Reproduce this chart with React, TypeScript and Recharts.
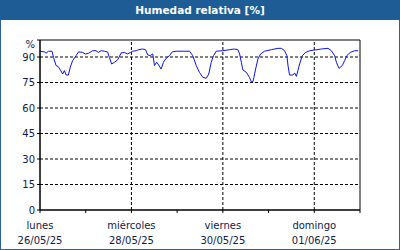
import React from 'react';
import { LineChart, Line, XAxis, YAxis, ReferenceLine, ReferenceArea } from 'recharts';

// hours since lunes 26/05/25 00:00, humidity in %
const hours = [
  0, 2.3, 3.2, 4.5, 6.3, 7.1, 8.4, 9.6, 10.7, 11.9, 12.8, 13.7, 14.9, 15.9, 17.1, 18.9, 20.3, 22.4, 23.8,
  25.5, 27.6, 29.4, 30.6, 32.1, 33.8, 35.5, 36.4, 37.6, 39.1, 40.8, 42.6, 44.3, 46.0, 47.5,
  48.7, 50.5, 51.8, 53.9, 55.4, 56.6, 57.8, 59.2, 60.1, 61.3, 62.3, 63.6, 64.8, 66.2, 68.0, 69.4, 71.5,
  78.5, 80.2, 82.0, 83.7, 85.5, 87.3, 88.6, 89.9, 91.1, 92.5, 96.0, 99.5, 102.1, 103.9, 104.8, 105.7,
  106.5, 108.3, 110.0, 110.9, 111.8, 112.3, 113.2, 114.4, 115.8, 117.9, 121.4, 124.9, 126.7, 128.4,
  129.6, 130.2, 131.0, 132.8, 133.7, 134.6, 135.4, 136.3, 137.7, 139.5, 141.6, 144.2, 147.7, 151.2,
  153.0, 154.7, 155.6, 157.0, 158.7, 159.9, 161.1, 162.9, 165.2, 167.0,
];
const humidity = [
  93.4, 93, 92.3, 93.4, 93.4, 89.8, 85, 84.3, 82.4, 80, 82, 79.4, 79.4, 84, 87.8, 90.8, 93, 92.7, 91.8,
  92.2, 93.7, 93.7, 92.7, 93.7, 93.4, 93, 89.8, 85.9, 86.9, 88.4, 92.4, 92.7, 91.8, 92.7,
  93.4, 93.7, 94.3, 94.7, 94.3, 91.2, 90.8, 91.8, 85, 86.9, 85.3, 82.9, 86.9, 89.2, 90.8, 93, 93.4,
  93.4, 90.8, 85, 81, 78, 77.5, 80, 86.9, 90.8, 93.4, 93.7, 94.3, 94.7, 94.3, 91.8, 86.9,
  82.4, 81, 78, 75.5, 75.5, 78, 82.9, 88.8, 91.8, 93.4, 94.3, 95.1, 95.1, 93.7,
  90.8, 85, 79.4, 79.4, 80.6, 78.6, 82, 85.9, 90.8, 92.7, 93.7, 94.1, 94.7, 95.1,
  93.7, 90.8, 86.9, 83.3, 85, 87.8, 90.8, 92.7, 93.7, 93.7,
];

const dayNames = ['lunes', 'martes', 'miércoles', 'jueves', 'viernes', 'sábado', 'domingo', 'lunes'];
const dateLabels = ['26/05/25', '27/05/25', '28/05/25', '29/05/25', '30/05/25', '31/05/25', '01/06/25', '02/06/25'];
const xTicks = [0, 24, 48, 72, 96, 120, 144, 168];
const xGrid = [48, 96, 144];
const yTicks = [0, 15, 30, 45, 60, 75, 90, 100];
const yGrid = [15, 30, 45, 60, 75, 90];

const data = hours.map((h, i) => ({ h, v: humidity[i] }));

const FONT = '"DejaVu Sans", Verdana, sans-serif';
const TEXT = '#0d1a4a';
const FRAME = '#2a6394';

const DayTick = (props: any) => {
  const { x, y, payload } = props;
  const day = Math.round(payload.value / 24);
  if (day % 2 !== 0) return null;
  return (
    <g>
      <text x={x} y={y + 14} textAnchor="middle" fill={TEXT} fontSize={10} fontFamily={FONT}>
        {dayNames[day]}
      </text>
      <text x={x} y={y + 29} textAnchor="middle" fill={TEXT} fontSize={10} fontFamily={FONT}>
        {dateLabels[day]}
      </text>
    </g>
  );
};

const ValueTick = (props: any) => {
  const { x, y, payload } = props;
  const top = payload.value === 100;
  return (
    <text x={x} y={y + (top ? 4 : 0)} dy="0.355em" textAnchor="end" fill={TEXT} fontSize={10} fontFamily={FONT}>
      {top ? '%' : payload.value}
    </text>
  );
};

export default function App() {
  return (
    <div style={{ position: 'fixed', left: 0, top: 0, width: 400, height: 250, background: '#fff', overflow: 'hidden' }}>
      <LineChart width={400} height={250} data={data} margin={{ top: 40, right: 40, bottom: 0, left: 0 }}>
        <XAxis
          dataKey="h"
          type="number"
          domain={[0, 168]}
          ticks={xTicks}
          interval={0}
          tick={<DayTick />}
          tickSize={3}
          height={40}
          stroke="#000"
          axisLine={{ stroke: '#000' }}
        />
        <YAxis
          type="number"
          domain={[0, 100]}
          ticks={yTicks}
          interval={0}
          tick={<ValueTick />}
          tickSize={3}
          width={40}
          stroke="#000"
          axisLine={{ stroke: '#000' }}
        />
        {yGrid.map((v) => (
          <ReferenceLine key={'y' + v} y={v} stroke="#000" strokeDasharray="3 2" />
        ))}
        {xGrid.map((v) => (
          <ReferenceLine key={'x' + v} x={v} stroke="#000" strokeDasharray="3 2" />
        ))}
        <ReferenceArea x1={0} x2={168} y1={0} y2={100} fill="none" fillOpacity={0} stroke="#000" strokeOpacity={1} />
        <Line
          type="linear"
          dataKey="v"
          stroke="#0a14e6"
          strokeWidth={1}
          dot={false}
          isAnimationActive={false}
        />
      </LineChart>
      <div
        style={{
          position: 'absolute',
          left: 0,
          top: 0,
          width: 400,
          height: 20,
          background: '#1d5c95',
          color: '#fff',
          fontFamily: FONT,
          fontWeight: 'bold',
          fontSize: 10.5,
          lineHeight: '20px',
          textAlign: 'center',
        }}
      >
        Humedad relativa [%]
      </div>
      <div style={{ position: 'absolute', left: 0, top: 20, width: 1, height: 230, background: FRAME }} />
      <div style={{ position: 'absolute', right: 0, top: 20, width: 1, height: 230, background: FRAME }} />
      <div style={{ position: 'absolute', left: 0, bottom: 0, width: 400, height: 1, background: FRAME }} />
    </div>
  );
}
